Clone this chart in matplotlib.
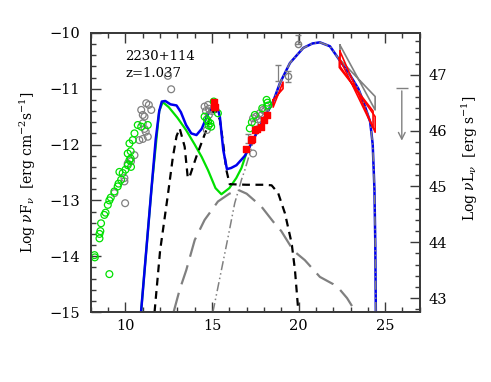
import numpy as np
import matplotlib
matplotlib.use("Agg")
import matplotlib.pyplot as plt
from matplotlib.ticker import MultipleLocator

plt.rcParams['font.family'] = ['DejaVu Serif']
plt.rcParams['mathtext.fontset'] = 'dejavuserif'

# --- model curves (log nu, log nuFnu) ---
tot_x = [10.9, 11.2, 11.5, 11.75, 11.95, 12.1, 12.3, 12.6, 12.95, 13.2, 13.5, 13.8, 14.1,
         14.4, 14.7, 15.0, 15.25, 15.45, 15.65, 15.86, 16.1, 16.41, 16.9, 17.37, 17.95,
         18.53, 18.92, 19.5, 20.27, 20.8, 21.23, 21.81, 22.39, 22.9, 23.45, 23.74, 24.13,
         24.22, 24.28, 24.38, 24.43, 24.46]
tot_y = [-15.0, -13.9, -12.8, -11.9, -11.4, -11.23, -11.22, -11.28, -11.3, -11.42, -11.65,
         -11.8, -11.83, -11.72, -11.5, -11.32, -11.25, -11.5, -12.1, -12.44, -12.42, -12.37,
         -12.2, -11.92, -11.56, -11.23, -10.9, -10.54, -10.27, -10.19, -10.17, -10.24, -10.5,
         -10.72, -11.0, -11.23, -11.59, -11.83, -12.0, -12.8, -13.8, -15.0]

sync_x = [10.9, 11.5, 11.95, 12.15, 12.5, 13.0, 13.5, 14.0, 14.4, 14.77, 15.2, 15.54,
          16.0, 16.4, 16.7, 16.99, 17.37, 17.95, 18.5]
sync_y = [-15.0, -12.8, -11.4, -11.24, -11.33, -11.52, -11.74, -12.0, -12.22, -12.46,
          -12.78, -12.89, -12.78, -12.6, -12.42, -12.15, -11.92, -11.56, -11.25]

therm_x = [11.68, 12.0, 12.45, 12.74, 12.95, 13.13, 13.42, 13.6, 13.7, 14.09, 14.67, 14.9,
           15.15, 15.45, 15.65, 15.83, 16.02, 17.0, 18.0, 18.44, 18.82, 19.21, 19.6,
           19.79, 19.98]
therm_y = [-15.0, -13.9, -12.9, -12.22, -11.85, -11.71, -12.04, -12.6, -12.58, -12.22,
           -11.74, -11.5, -11.37, -11.55, -12.0, -12.46, -12.71, -12.72, -12.72, -12.73,
           -12.87, -13.23, -13.77, -14.25, -14.97]

ssc_x = [12.78, 13.13, 13.51, 14.0, 14.57, 15.34, 16.0, 16.5, 17.0, 17.85, 18.53, 19.0,
         19.7, 20.36, 21.23, 22.0, 22.39, 22.8, 23.16, 23.25]
ssc_y = [-15.0, -14.6, -14.25, -13.71, -13.35, -13.02, -12.88, -12.81, -12.88, -13.11,
         -13.38, -13.55, -13.9, -14.07, -14.37, -14.5, -14.6, -14.75, -14.93, -15.0]

ec_x = [15.05, 15.54, 15.93, 16.31, 16.7, 16.89, 17.37, 17.95, 18.53, 18.92, 19.5, 20.27,
        20.8, 21.23, 21.81, 22.39, 22.9, 23.45, 23.74, 24.13, 24.22, 24.28, 24.38, 24.43,
        24.46]
ec_y = [-15.0, -14.25, -13.65, -13.05, -12.63, -12.46, -11.96, -11.56, -11.23, -10.9,
        -10.54, -10.27, -10.19, -10.17, -10.24, -10.5, -10.72, -11.0, -11.23, -11.59,
        -11.83, -12.0, -12.8, -13.8, -15.0]

# --- data points ---
green_x = [8.21, 8.23, 9.07, 8.5, 8.5, 8.55, 8.59, 8.78, 8.85, 8.98, 9.07, 9.15, 9.36,
           9.55, 9.6, 9.75, 9.84, 9.65, 10.0, 10.13, 10.23, 10.3, 10.13, 10.3, 10.23,
           10.42, 10.52, 10.71, 10.91, 11.29, 10.32,
           14.57, 14.77, 14.8, 14.9, 15.1, 15.34, 14.7, 14.95,
           17.18, 17.47, 18.15, 18.2, 18.25, 17.3, 17.9]
green_y = [-13.98, -14.02, -14.32, -13.68, -13.6, -13.55, -13.41, -13.26, -13.22, -13.08,
           -13.0, -12.95, -12.84, -12.75, -12.7, -12.63, -12.51, -12.49, -12.45, -12.37,
           -12.28, -12.25, -12.16, -12.12, -11.98, -11.92, -11.8, -11.65, -11.68, -11.65,
           -12.4,
           -11.5, -11.59, -11.66, -11.62, -11.23, -11.44, -11.55, -11.68,
           -11.71, -11.47, -11.2, -11.25, -11.3, -11.6, -11.35]

grey_x = [9.98, 10.91, 11.2, 11.35, 11.0, 11.49, 11.1, 11.0, 11.1, 11.29, 11.0, 10.8,
          10.52, 10.32, 10.13, 9.94, 9.94, 9.36, 12.45, 12.64, 11.17,
          14.57, 14.77, 14.82, 14.82, 14.7, 14.65, 15.0,
          17.37, 17.55, 17.76, 17.95, 18.15, 17.47, 17.37, 17.65, 18.05, 17.85]
grey_y = [-13.05, -11.38, -11.26, -11.29, -11.47, -11.38, -11.5, -11.62, -11.72, -11.86,
          -11.9, -11.92, -12.19, -12.3, -12.34, -12.6, -12.66, -12.87, -10.77, -11.01,
          -11.77,
          -11.32, -11.29, -11.36, -11.47, -11.74, -11.4, -11.4,
          -11.53, -11.5, -11.44, -11.38, -11.32, -11.62, -12.16, -11.55, -11.4, -11.48]

red_x = [15.1, 15.2, 15.12, 16.94, 17.23, 17.3, 17.47, 17.6, 17.8, 17.99, 18.18]
red_y = [-11.23, -11.33, -11.33, -12.08, -11.92, -11.9, -11.74, -11.72, -11.68, -11.56, -11.47]

# grey points with error bars
eb_x = [17.1, 18.82, 19.4, 19.98]
eb_y = [-11.9, -10.72, -10.78, -10.2]
eb_lo = [0.08, 0.15, 0.1, 0.0]
eb_hi = [0.08, 0.15, 0.1, 0.17]
eb_marker = [False, False, True, True]

# bow-ties: x_left, x_right, (left top, left bottom), (right top, right bottom)
bow_grey = dict(x=(22.39, 24.42), left=(-10.22, -10.48), right=(-11.14, -11.38))
bow_red1 = dict(x=(22.39, 24.42), left=(-10.33, -10.6), right=(-11.5, -11.78))
bow_red2 = dict(x=(22.35, 24.3), left=(-10.45, -10.62), right=(-11.4, -11.7))
bow_red3 = dict(x=(18.53, 19.1), left=(-11.2, -11.33), right=(-10.88, -11.0))

# upper limit
ul_x = [25.96]
ul_y = [-10.99]
ul_to = [-11.98]

source = "2230+114"
redshift = "z=1.037"
lum_offset = 57.75

fig = plt.figure(figsize=(4.91, 3.82), dpi=100)
ax = fig.add_axes([0.185, 0.183, 0.670, 0.731])

green = '#00e000'
grey = '#808080'

ax.plot(sync_x, sync_y, color=green, lw=1.6, zorder=3)
ax.plot(therm_x, therm_y, color='black', lw=1.6, ls=(0, (3.5, 2.5)), zorder=3)
ax.plot(ssc_x, ssc_y, color=grey, lw=1.6, ls=(0, (9, 4)), zorder=3)
ax.plot(tot_x, tot_y, color='#0000ee', lw=1.8, zorder=4)
ax.plot(ec_x, ec_y, color=grey, lw=1.1, ls=(0, (6, 2, 1, 2, 1, 2)), zorder=5)


def bowtie(b, color):
    x0, x1 = b['x']
    px = [x0, x1, x1, x0, x0]
    py = [b['left'][0], b['right'][1], b['right'][0], b['left'][1], b['left'][0]]
    ax.plot(px, py, color=color, lw=1.2, zorder=6)


bowtie(bow_grey, grey)
bowtie(bow_red1, 'red')
bowtie(bow_red2, 'red')
bowtie(bow_red3, 'red')

ax.scatter(grey_x, grey_y, s=24, facecolors='none', edgecolors=grey, linewidths=0.9, zorder=6)
ax.scatter(green_x, green_y, s=24, facecolors='none', edgecolors=green, linewidths=0.9, zorder=7)
ax.scatter(red_x, red_y, s=16, color='red', marker='s', zorder=8)

for x, y, lo, hi, mk in zip(eb_x, eb_y, eb_lo, eb_hi, eb_marker):
    ax.errorbar([x], [y], yerr=[[lo], [hi]], fmt='o' if mk else 'none', ms=4.5,
                mfc='none', mec=grey, ecolor=grey, elinewidth=0.9, capsize=2, zorder=7)

for x, y0, y1 in zip(ul_x, ul_y, ul_to):
    ax.annotate('', xy=(x, y1), xytext=(x, y0),
                arrowprops=dict(arrowstyle='->', color=grey, lw=1.0, mutation_scale=12))
ax.plot(ul_x, ul_y, marker='_', ms=8, mew=1.0, color=grey, ls='none')

ax.text(10.0, -10.43, source, fontsize=9.5, va='center', ha='left')
ax.text(10.0, -10.72, redshift, fontsize=9.5, va='center', ha='left')

ax.set_xlim(8, 27)
ax.set_ylim(-15, -10)
ax.xaxis.set_major_locator(MultipleLocator(5))
ax.xaxis.set_minor_locator(MultipleLocator(1))
ax.yaxis.set_major_locator(MultipleLocator(1))
ax.yaxis.set_minor_locator(MultipleLocator(0.2))

ax2 = ax.twinx()
ax2.set_ylim(-15 + lum_offset, -10 + lum_offset)
ax2.yaxis.set_major_locator(MultipleLocator(1))
ax2.yaxis.set_minor_locator(MultipleLocator(0.2))

axis_col = '#3a3a3a'
for a in (ax, ax2):
    for s in a.spines.values():
        s.set_color(axis_col)
        s.set_linewidth(1.3)
ax.tick_params(which='both', direction='in', top=True, right=False, color=axis_col, width=1.0,
               labelsize=10.5)
ax.tick_params(which='major', length=7)
ax.tick_params(which='minor', length=3.5)
ax.tick_params(axis='y', pad=8)
ax.tick_params(axis='x', pad=5)
ax2.tick_params(which='both', direction='in', color=axis_col, width=1.0, labelsize=10.5, pad=6)
ax2.tick_params(which='major', length=7)
ax2.tick_params(which='minor', length=3.5)

ax.set_ylabel(r'Log $\nu$F$_\nu$  [erg cm$^{-2}$s$^{-1}$]', fontsize=10)
ax.yaxis.set_label_coords(-0.16, 0.5)
ax2.set_ylabel(r'Log $\nu$L$_\nu$  [erg s$^{-1}$]', fontsize=10, rotation=90)
ax2.yaxis.set_label_coords(1.12, 0.55)

fig.savefig('out.png', dpi=100)
